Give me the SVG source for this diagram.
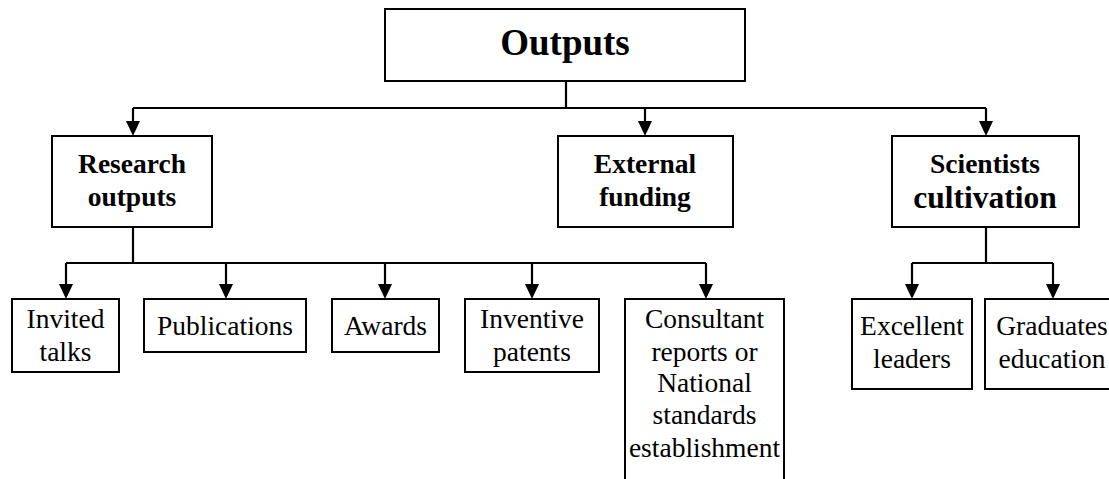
<svg xmlns="http://www.w3.org/2000/svg" width="1109" height="479" viewBox="0 0 1109 479">
<style>
.box{fill:#fff;stroke:#000;stroke-width:2}
.ln{fill:none;stroke:#000;stroke-width:2.2}
.b{font-family:"Liberation Serif","Times New Roman",serif;font-weight:bold;font-size:27.5px;text-anchor:middle;fill:#000}
.r{font-family:"Liberation Serif","Times New Roman",serif;font-size:27.5px;text-anchor:middle;fill:#000}
</style>
<g id="connectors">
<path class="ln" d="M566,81 V108 M133,108 H986 M133,227 V263 M66,263 H706 M986,227 V263 M912,263 H1053"/>
<g fill="#000">
<polygon points="126,121 140,121 133,136"/>
<polygon points="638,121 652,121 645,136"/>
<polygon points="979,121 993,121 986,136"/>
<polygon points="59,284 73,284 66,299"/>
<polygon points="219,284 233,284 226,299"/>
<polygon points="378,284 392,284 385,299"/>
<polygon points="525,284 539,284 532,299"/>
<polygon points="699,284 713,284 706,299"/>
<polygon points="905,284 919,284 912,299"/>
<polygon points="1046,284 1060,284 1053,299"/>
</g>
<path class="ln" d="M133,108 V122 M645,108 V122 M986,108 V122 M66,263 V285 M226,263 V285 M385,263 V285 M532,263 V285 M706,263 V285 M912,263 V285 M1053,263 V285"/>
</g>
<g id="outputs">
<rect class="box" x="385" y="9" width="360" height="72"/>
<text class="b" x="565" y="55" style="font-size:37px">Outputs</text>
</g>
<g id="research">
<rect class="box" x="52" y="136" width="160" height="91"/>
<text class="b" x="132" y="173">Research</text>
<text class="b" x="132" y="206">outputs</text>
</g>
<g id="external">
<rect class="box" x="558" y="136" width="175" height="91"/>
<text class="b" x="645" y="173">External</text>
<text class="b" x="645" y="206">funding</text>
</g>
<g id="scientists">
<rect class="box" x="892" y="136" width="187" height="91"/>
<text class="b" x="985" y="173">Scientists</text>
<text class="b" x="985" y="208" style="font-size:31.5px">cultivation</text>
</g>
<g id="invited">
<rect class="box" x="12" y="299" width="107" height="73"/>
<text class="r" x="65.5" y="328">Invited</text>
<text class="r" x="65.5" y="361">talks</text>
</g>
<g id="publications">
<rect class="box" x="144" y="299" width="162" height="53"/>
<text class="r" x="225" y="335">Publications</text>
</g>
<g id="awards">
<rect class="box" x="332" y="299" width="107" height="53"/>
<text class="r" x="385.5" y="335">Awards</text>
</g>
<g id="inventive">
<rect class="box" x="465" y="299" width="134" height="73"/>
<text class="r" x="532" y="328">Inventive</text>
<text class="r" x="532" y="361">patents</text>
</g>
<g id="consultant">
<path class="box" d="M625,482 V299 H784 V482"/>
<text class="r" x="704.5" y="328">Consultant</text>
<text class="r" x="704.5" y="361">reports or</text>
<text class="r" x="704.5" y="392">National</text>
<text class="r" x="704.5" y="424">standards</text>
<text class="r" x="704.5" y="457">establishment</text>
</g>
<g id="excellent">
<rect class="box" x="852" y="299" width="120" height="90"/>
<text class="r" x="912" y="335">Excellent</text>
<text class="r" x="912" y="368">leaders</text>
</g>
<g id="graduates">
<rect class="box" x="985" y="299" width="136" height="90"/>
<text class="r" x="1052" y="335">Graduates</text>
<text class="r" x="1052" y="368">education</text>
</g>
</svg>
